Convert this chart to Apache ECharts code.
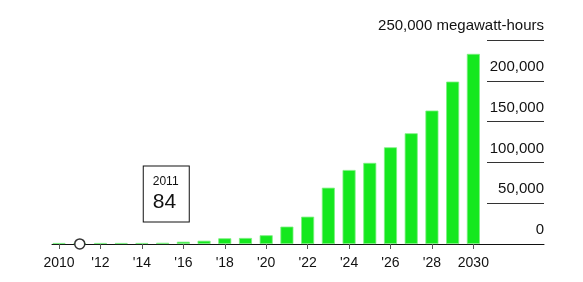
<!DOCTYPE html>
<html>
<head>
<meta charset="utf-8">
<script src="https://cdn.jsdelivr.net/npm/echarts@6/dist/echarts.min.js"></script>
<style>
html,body{margin:0;padding:0;background:#fff;}
#chart{width:583px;height:282px;}
</style>
</head>
<body>
<div id="chart"></div>
<script>
const years = [2010,2011,2012,2013,2014,2015,2016,2017,2018,2019,2020,2021,2022,2023,2024,2025,2026,2027,2028,2029,2030];
const megawattHours = [40,84,200,400,700,1500,2800,4000,7000,7400,10700,21300,33500,69000,90700,99400,118500,135700,163500,199000,233000];
const tickYears = [2010,2012,2014,2016,2018,2020,2022,2024,2026,2028,2030];
const tickLabels = ['2010',"'12","'14","'16","'18","'20","'22","'24","'26","'28",'2030'];
const yTicks = [0,50000,100000,150000,200000,250000];
const yUnit = 'megawatt-hours';
const highlightYear = 2011;
const highlightValue = 84;

const FONT = "'Liberation Sans', Arial, Helvetica, sans-serif";
const chart = echarts.init(document.getElementById('chart'), null, {renderer:'canvas'});

const fmt = v => v.toLocaleString('en-US');

chart.setOption({
  animation: false,
  backgroundColor: '#fff',
  textStyle: {fontFamily: FONT, color: '#111'},
  grid: [
    {left: 52, right: 39, top: 40, bottom: 38},
    {left: 487, right: 39, top: 40, bottom: 38}
  ],
  xAxis: [
    {
      gridIndex: 0, type: 'value', min: 2009.66, max: 2033.41,
      splitLine: {show: false},
      axisLine: {show: true, onZero: false, lineStyle: {color: '#111', width: 1}},
      axisTick: {show: true, customValues: tickYears, length: 5, lineStyle: {color: '#555', width: 1}},
      axisLabel: {
        customValues: tickYears, margin: 12, fontSize: 14, color: '#111', fontFamily: FONT,
        formatter: v => tickLabels[tickYears.indexOf(Math.round(v))] || ''
      }
    },
    {gridIndex: 1, type: 'value', min: 0, max: 1, show: false}
  ],
  yAxis: [
    {gridIndex: 0, type: 'value', min: 0, max: yTicks[yTicks.length-1], show: false},
    {
      gridIndex: 1, type: 'value', position: 'right',
      min: yTicks[0], max: yTicks[yTicks.length-1], interval: yTicks[1]-yTicks[0],
      axisLine: {show: false}, axisTick: {show: false},
      splitLine: {show: true, lineStyle: {color: '#333', width: 1}},
      axisLabel: {
        inside: true, margin: 0, fontSize: 15, color: '#111', fontFamily: FONT,
        verticalAlign: 'bottom', lineHeight: 18, padding: [0, 0, 5, 0],
        showMinLabel: true, showMaxLabel: true,
        formatter: v => v === yTicks[yTicks.length-1] ? fmt(v) + ' ' + yUnit : fmt(v)
      }
    }
  ],
  series: [
    {
      type: 'bar', xAxisIndex: 0, yAxisIndex: 0,
      barWidth: 13, barMinHeight: 1,
      itemStyle: {color: '#14e81e', borderColor: '#7cef80', borderWidth: 0.8},
      data: years.map((y, i) => [y, megawattHours[i]])
    },
    {
      type: 'scatter', xAxisIndex: 0, yAxisIndex: 0, z: 5,
      symbol: 'circle', symbolSize: 10,
      itemStyle: {color: '#fff', borderColor: '#333', borderWidth: 1.5, opacity: 1},
      label: {
        show: true, position: 'inside', offset: [64, -50], opacity: 1,
        color: '#111',
        backgroundColor: '#fff', borderColor: '#111', borderWidth: 1,
        padding: [6, 8, 7, 9], align: 'left',
        formatter: p => '{y|' + p.value[0] + '}\n{v|' + fmt(p.value[1]) + '}',
        rich: {
          y: {fontSize: 12, lineHeight: 18, color: '#111', fontFamily: FONT, width: 28, align: 'left'},
          v: {fontSize: 21, lineHeight: 24, color: '#111', fontFamily: FONT, width: 28, align: 'left'}
        }
      },
      data: [[highlightYear, highlightValue]]
    }
  ]
});
</script>
</body>
</html>
